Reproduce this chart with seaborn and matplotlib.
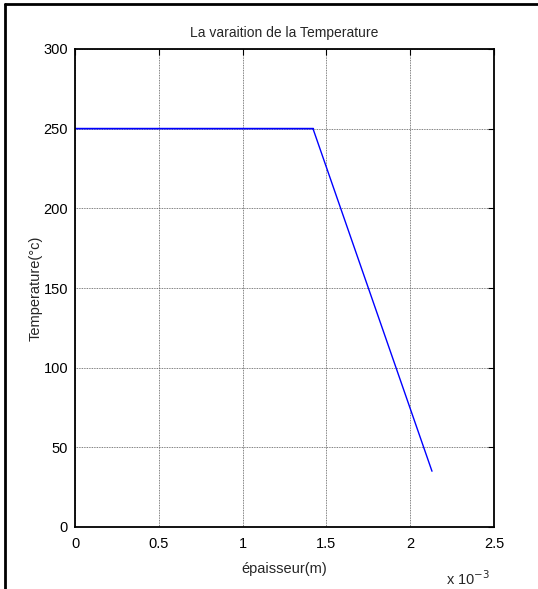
import matplotlib
matplotlib.use("Agg")
import matplotlib.pyplot as plt
import seaborn as sns
import pandas as pd
from matplotlib.lines import Line2D
from matplotlib.ticker import FuncFormatter

# Data
epaisseur = [0.0, 1.42e-3, 2.13e-3]
temperature = [250.0, 250.0, 35.0]
x_ticks = [0, 0.5e-3, 1.0e-3, 1.5e-3, 2.0e-3, 2.5e-3]
y_ticks = [0, 50, 100, 150, 200, 250, 300]
title = "La varaition de la Temperature"
xlabel = "épaisseur(m)"
ylabel = "Temperature(°c)"

sns.set_style("white")
plt.rcParams['font.family'] = ['Liberation Sans', 'DejaVu Sans']

df = pd.DataFrame({"x": epaisseur, "y": temperature})

fig = plt.figure(figsize=(5.38, 5.89), dpi=100)
ax = fig.add_axes([75/538, 1-527/589, (494-75)/538, (527-49)/589])

sns.lineplot(data=df, x="x", y="y", ax=ax, color="blue", linewidth=1.0, sort=False)
# the flat part looks thicker in the reference
sns.lineplot(x=epaisseur[:2], y=[v + 0.4 for v in temperature[:2]], ax=ax,
             color="blue", linewidth=1.0)

ax.set_xlim(0, 2.5e-3)
ax.set_ylim(0, 300)
ax.set_xticks(x_ticks)
ax.set_yticks(y_ticks)
ax.xaxis.set_major_formatter(FuncFormatter(lambda v, p: f"{v*1e3:g}"))
ax.grid(True, linestyle=(0, (1, 1)), color="#555555", linewidth=0.6)
ax.tick_params(direction="in", length=4, width=0.8, top=True, right=True,
               labelsize=10.5, colors="black")
ax.tick_params(axis="x", pad=7)
ax.tick_params(axis="y", pad=5)
for s in ax.spines.values():
    s.set_color("black")
    s.set_linewidth(1.3)

ax.set_title(title, fontsize=10, pad=9)
ax.set_xlabel(xlabel, fontsize=10.5, labelpad=8)
ax.set_ylabel(ylabel, fontsize=10.5)
ax.yaxis.set_label_coords(-0.077, 0.5)
ax.text(0.99, -0.108, "x 10$^{-3}$", transform=ax.transAxes, fontsize=10.5,
        ha="right", va="center")

# figure border (top and left edges)
fig.add_artist(Line2D([5/538, 5/538], [0, 1-4/589], transform=fig.transFigure,
                      color="black", linewidth=2))
fig.add_artist(Line2D([5/538, 1], [1-4/589, 1-4/589], transform=fig.transFigure,
                      color="black", linewidth=2))

fig.savefig("out.png", dpi=100)
